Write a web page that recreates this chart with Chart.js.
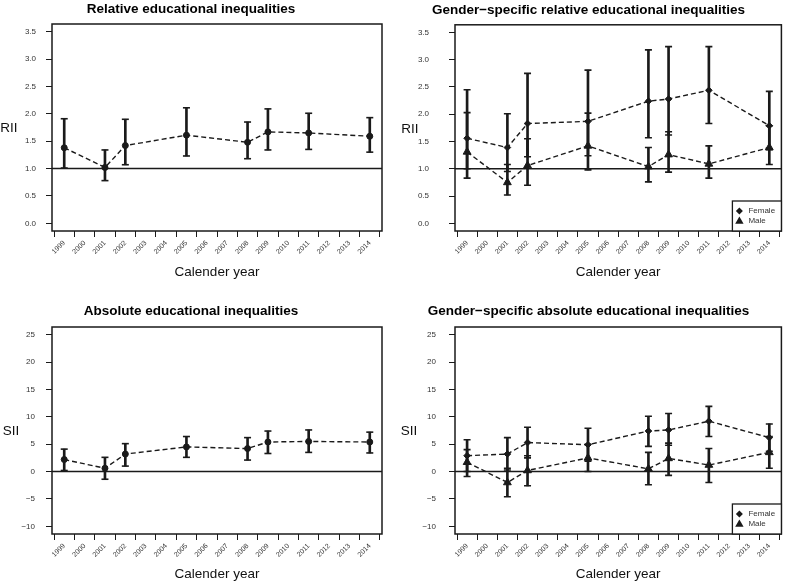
<!DOCTYPE html>
<html><head><meta charset="utf-8">
<script src="https://cdn.jsdelivr.net/npm/chart.js@4.4.0/dist/chart.umd.min.js"></script>
<style>
html,body{margin:0;padding:0;background:#fff;width:787px;height:582px;overflow:hidden}
canvas{position:absolute;display:block}
</style></head><body>
<canvas id="c1" width="393" height="290" style="left:0;top:0"></canvas>
<canvas id="c2" width="394" height="290" style="left:393px;top:0"></canvas>
<canvas id="c3" width="393" height="292" style="left:0;top:290px"></canvas>
<canvas id="c4" width="394" height="292" style="left:393px;top:290px"></canvas>
<script>
// ---- data ----
const surveyYears = [1999, 2001, 2002, 2005, 2008, 2009, 2011, 2014];
const yearTicks = [1999, 2000, 2001, 2002, 2003, 2004, 2005, 2006, 2007, 2008, 2009, 2010, 2011, 2012, 2013, 2014];
const riiTicks = [0, 0.5, 1, 1.5, 2, 2.5, 3, 3.5];
const siiTicks = [-10, -5, 0, 5, 10, 15, 20, 25];

const rii   = [1.38, 1.02, 1.42, 1.61, 1.48, 1.67, 1.65, 1.59];
const riiLo = [1.01, 0.78, 1.07, 1.23, 1.18, 1.34, 1.35, 1.30];
const riiHi = [1.91, 1.34, 1.90, 2.11, 1.85, 2.09, 2.01, 1.93];

const riiF   = [1.56, 1.39, 1.83, 1.87, 2.24, 2.28, 2.44, 1.79];
const riiFLo = [1.00, 0.95, 1.22, 1.24, 1.57, 1.62, 1.83, 1.35];
const riiFHi = [2.45, 2.01, 2.75, 2.81, 3.18, 3.24, 3.24, 2.42];
const riiM   = [1.31, 0.75, 1.06, 1.42, 1.04, 1.26, 1.09, 1.39];
const riiMLo = [0.83, 0.52, 0.70, 0.98, 0.76, 0.94, 0.83, 1.08];
const riiMHi = [2.03, 1.08, 1.55, 2.02, 1.39, 1.68, 1.42, 1.79];

const sii   = [2.2, 0.6, 3.2, 4.5, 4.2, 5.4, 5.5, 5.4];
const siiLo = [0.2, -1.4, 1.0, 2.6, 2.1, 3.3, 3.5, 3.4];
const siiHi = [4.1, 2.6, 5.1, 6.4, 6.2, 7.4, 7.6, 7.2];

const siiF   = [2.9, 3.2, 5.3, 4.9, 7.4, 7.6, 9.2, 6.2];
const siiFLo = [0.0, 0.3, 2.5, 1.9, 4.6, 4.8, 6.4, 3.7];
const siiFHi = [5.8, 6.2, 8.1, 7.9, 10.1, 10.6, 11.9, 8.7];
const siiM   = [1.7, -2.0, 0.2, 2.5, 0.5, 2.4, 1.2, 3.5];
const siiMLo = [-0.9, -4.6, -2.6, 0.0, -2.4, -0.7, -2.0, 0.6];
const siiMHi = [4.0, 0.6, 2.9, 5.0, 3.5, 5.2, 4.2, 6.4];

// ---- styling ----
const INK = '#1a1a1a';
const FONT = "'Liberation Sans', Arial, Helvetica, sans-serif";
Chart.defaults.font.family = FONT;
Chart.defaults.color = '#333';
const X_MIN = 1998.4, X_MAX = 2014.6;

function seriesSets(name, vals, lo, hi, style, radius) {
  return [
    { type: 'line', label: name, data: surveyYears.map((x, i) => ({ x, y: vals[i] })),
      borderColor: INK, borderWidth: 1.4, borderDash: [5, 3], fill: false, tension: 0,
      pointStyle: style, pointRadius: radius, pointBackgroundColor: INK, pointBorderColor: INK,
      pointBorderWidth: 1, order: 0 },
    { type: 'bar', label: name + ' CI', data: surveyYears.map((x, i) => ({ x, y: [lo[i], hi[i]] })),
      backgroundColor: INK, barThickness: 2, grouped: false, borderWidth: 0, order: 2 },
    { type: 'line', label: name + ' caps', data: surveyYears.flatMap((x, i) => [{ x, y: lo[i] }, { x, y: hi[i] }]),
      showLine: false, pointStyle: 'line', pointRadius: 3.5, pointBorderWidth: 1.6,
      pointBorderColor: INK, pointBackgroundColor: INK, order: 1 }
  ];
}

function refLine(v) {
  return { type: 'line', label: 'ref', data: [{ x: X_MIN, y: v }, { x: X_MAX, y: v }],
    borderColor: INK, borderWidth: 1.4, pointRadius: 0, fill: false, order: 3 };
}

const framePlugin = {
  id: 'frame',
  afterDraw(chart, args, o) {
    const { ctx, chartArea: a } = chart;
    ctx.save();
    ctx.strokeStyle = INK; ctx.lineWidth = 1.5;
    ctx.strokeRect(a.left, a.top, a.right - a.left, a.bottom - a.top);
    ctx.fillStyle = '#111';
    ctx.font = '13.5px ' + FONT;
    ctx.textAlign = 'center'; ctx.textBaseline = 'middle';
    ctx.fillText(o.yLabel, o.yLabelX, (a.top + a.bottom) / 2 + 1);
    if (o.legend) {
      const x0 = a.right - 49, y0 = a.bottom - 30;
      ctx.fillStyle = '#fff';
      ctx.fillRect(x0, y0, 49, 30);
      ctx.lineWidth = 1.3;
      ctx.strokeRect(x0, y0, 49, 30);
      ctx.fillStyle = INK;
      const mx = x0 + 7, fy = a.bottom - 20, my = a.bottom - 10;
      ctx.beginPath();
      ctx.moveTo(mx, fy - 3.5); ctx.lineTo(mx + 3.5, fy); ctx.lineTo(mx, fy + 3.5); ctx.lineTo(mx - 3.5, fy);
      ctx.closePath(); ctx.fill();
      ctx.beginPath();
      ctx.moveTo(mx, my - 4.5); ctx.lineTo(mx + 4.2, my + 2.8); ctx.lineTo(mx - 4.2, my + 2.8);
      ctx.closePath(); ctx.fill();
      ctx.fillStyle = '#333';
      ctx.font = '8px ' + FONT;
      ctx.textAlign = 'left';
      ctx.fillText(o.legend[0], x0 + 16, fy);
      ctx.fillText(o.legend[1], x0 + 16, my);
    }
    ctx.restore();
  }
};

function fmtTick(v, dec) {
  const s = dec ? Math.abs(v).toFixed(1) : String(Math.abs(v));
  return v < 0 ? '\u2212' + s : s;
}

function panel(id, c) {
  new Chart(document.getElementById(id), {
    type: 'line',
    data: { datasets: [refLine(c.ref)].concat(...c.series) },
    options: {
      responsive: false, animation: false, events: [],
      layout: { padding: { left: 0, right: c.padRight, top: 0, bottom: 0 } },
      plugins: {
        legend: { display: false }, tooltip: { enabled: false },
        title: { display: true, text: c.title, color: '#000', font: { size: 13.5, weight: 'bold' },
                 padding: { top: c.titleTop, bottom: c.titleBottom } },
        frame: { yLabel: c.yLabel, yLabelX: c.yLabelX, legend: c.legend }
      },
      scales: {
        x: {
          type: 'linear', min: X_MIN, max: X_MAX, offset: false,
          afterBuildTicks: s => { s.ticks = yearTicks.map(v => ({ value: v })); },
          afterFit: s => { s.height = c.xHeight; },
          grid: { display: true, drawOnChartArea: false, drawTicks: true, tickLength: 6, color: INK, lineWidth: 1 },
          border: { display: false },
          ticks: { autoSkip: false, minRotation: 45, maxRotation: 45, padding: 2, font: { size: 7 }, color: '#333',
                   callback: v => String(v) },
          title: { display: true, text: 'Calender year', color: '#111', font: { size: 13.5 },
                   padding: { top: 0, bottom: c.xTitlePad } }
        },
        y: {
          type: 'linear', min: c.yMin, max: c.yMax,
          afterBuildTicks: s => { s.ticks = c.yTicks.map(v => ({ value: v })); },
          afterFit: s => { s.width = c.left; },
          grid: { display: true, drawOnChartArea: false, drawTicks: true, tickLength: 6, color: INK, lineWidth: 1 },
          border: { display: false },
          ticks: { padding: c.yPad, font: { size: 8 }, color: '#333', callback: v => fmtTick(v, c.dec) }
        }
      }
    },
    plugins: [framePlugin]
  });
}

panel('c1', {
  title: 'Relative educational inequalities', yLabel: 'RII', yLabelX: 9, ref: 1,
  series: [seriesSets('Total', rii, riiLo, riiHi, 'circle', 3)],
  yTicks: riiTicks, yMin: -0.14, yMax: 3.64, dec: true,
  left: 52, padRight: 11, yPad: 10, titleTop: 1, titleBottom: 6.8, xHeight: 59, xTitlePad: 10
});
panel('c2', {
  title: 'Gender\u2212specific relative educational inequalities', yLabel: 'RII', yLabelX: 17, ref: 1,
  series: [seriesSets('Female', riiF, riiFLo, riiFHi, 'rectRot', 3.3), seriesSets('Male', riiM, riiMLo, riiMHi, 'triangle', 4.5)],
  legend: ['Female', 'Male'],
  yTicks: riiTicks, yMin: -0.14, yMax: 3.64, dec: true,
  left: 62, padRight: 3, yPad: 20, titleTop: 1, titleBottom: 6.8, xHeight: 59, xTitlePad: 10
});
panel('c3', {
  title: 'Absolute educational inequalities', yLabel: 'SII', yLabelX: 11, ref: 0,
  series: [seriesSets('Total', sii, siiLo, siiHi, 'circle', 3)],
  yTicks: siiTicks, yMin: -11.4, yMax: 26.4, dec: false,
  left: 52, padRight: 11, yPad: 11, titleTop: 12.9, titleBottom: 7.9, xHeight: 48, xTitlePad: 0
});
panel('c4', {
  title: 'Gender\u2212specific absolute educational inequalities', yLabel: 'SII', yLabelX: 16, ref: 0,
  series: [seriesSets('Female', siiF, siiFLo, siiFHi, 'rectRot', 3.3), seriesSets('Male', siiM, siiMLo, siiMHi, 'triangle', 4.5)],
  legend: ['Female', 'Male'],
  yTicks: siiTicks, yMin: -11.4, yMax: 26.4, dec: false,
  left: 62, padRight: 3, yPad: 13, titleTop: 12.9, titleBottom: 7.9, xHeight: 48, xTitlePad: 0
});
</script>
</body></html>
